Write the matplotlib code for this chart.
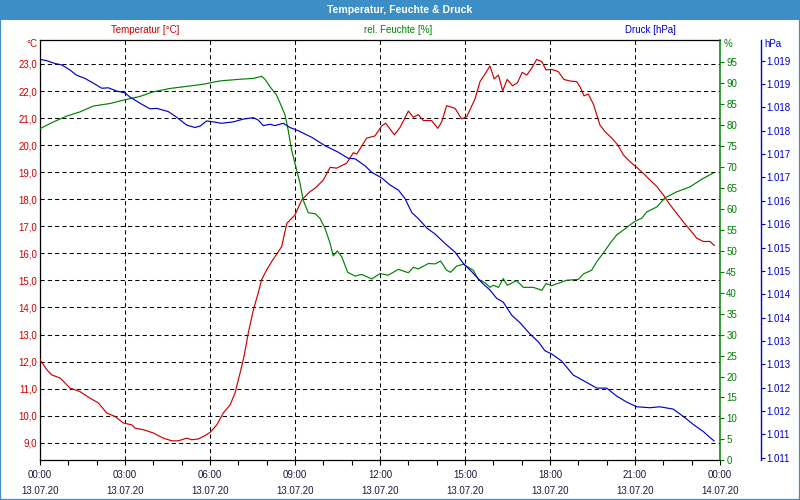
import matplotlib.pyplot as plt
import matplotlib.ticker as mticker
from matplotlib.patches import Rectangle
import numpy as np

plt.rcParams['font.family'] = ['Liberation Sans', 'DejaVu Sans']

# temperature (hours since 13.07.20 00:00, degC)
temp_h = [0.00, 0.24, 0.41, 0.71, 1.06, 1.41, 1.76, 2.06, 2.35, 2.65, 2.94, 3.24, 3.35, 3.65,
          4.00, 4.35, 4.65, 4.88, 5.18, 5.35, 5.59, 5.82, 6.00, 6.24, 6.47, 6.71, 6.88, 7.06,
          7.20, 7.35, 7.53, 7.70, 7.82, 7.98, 8.18, 8.53, 8.71, 9.00, 9.24, 9.53, 9.71, 10.00,
          10.24, 10.47, 10.82, 11.06, 11.18, 11.53, 11.82, 12.06, 12.20, 12.51, 12.71, 13.00,
          13.18, 13.35, 13.53, 13.82, 14.04, 14.18, 14.35, 14.65, 14.88, 15.06, 15.35, 15.53,
          15.71, 15.88, 16.03, 16.18, 16.33, 16.49, 16.68, 16.85, 17.02, 17.18, 17.35, 17.53,
          17.71, 17.86, 18.06, 18.29, 18.49, 18.71, 18.94, 19.06, 19.20, 19.35, 19.53, 19.65,
          19.76, 19.94, 20.18, 20.39, 20.59, 20.82, 21.06, 21.29, 21.53, 21.77, 22.00, 22.24,
          22.47, 22.70, 22.94, 23.18, 23.41, 23.65, 23.80]
temp = [12.07, 11.70, 11.51, 11.39, 11.02, 10.89, 10.65, 10.47, 10.10, 9.97, 9.73, 9.66, 9.54, 9.48,
        9.36, 9.17, 9.07, 9.07, 9.17, 9.11, 9.14, 9.26, 9.38, 9.66, 10.10, 10.40, 10.83, 11.57,
        12.19, 13.05, 13.91, 14.53, 15.02, 15.35, 15.70, 16.25, 17.11, 17.42, 17.98, 18.28, 18.41, 18.71,
        19.18, 19.15, 19.33, 19.72, 19.67, 20.26, 20.34, 20.71, 20.81, 20.38, 20.66, 21.26,
        21.03, 21.13, 20.91, 20.91, 20.62, 20.87, 21.46, 21.36, 20.97, 21.05, 21.70, 22.35,
        22.63, 22.93, 22.45, 22.59, 22.01, 22.43, 22.19, 22.31, 22.69, 22.59, 22.84, 23.17,
        23.09, 22.78, 22.80, 22.72, 22.43, 22.37, 22.35, 22.16, 21.82, 21.89, 21.52, 21.12,
        20.75, 20.50, 20.26, 20.01, 19.64, 19.39, 19.18, 18.96, 18.71, 18.47, 18.16, 17.79,
        17.48, 17.17, 16.87, 16.56, 16.44, 16.44, 16.29]

# relative humidity (%)
hum_h = [0.00, 0.47, 0.94, 1.41, 1.88, 2.47, 2.94, 3.53, 4.00, 4.59, 5.18, 5.76, 6.35, 7.06,
         7.53, 7.82, 7.94, 8.12, 8.35, 8.53, 8.65, 8.76, 8.88, 9.06, 9.18, 9.29, 9.47, 9.71,
         9.88, 10.06, 10.24, 10.35, 10.49, 10.65, 10.86, 11.12, 11.35, 11.71, 12.00, 12.29,
         12.65, 13.00, 13.18, 13.35, 13.71, 13.94, 14.14, 14.35, 14.49, 14.71, 14.94, 15.29,
         15.47, 15.71, 15.88, 16.00, 16.18, 16.35, 16.49, 16.82, 17.06, 17.41, 17.71, 17.86,
         18.06, 18.59, 19.00, 19.18, 19.47, 19.65, 19.88, 20.12, 20.35, 20.71, 21.00, 21.24,
         21.41, 21.77, 22.06, 22.47, 22.94, 23.35, 23.76]
hum = [79.2, 80.8, 82.2, 83.2, 84.6, 85.2, 86.0, 86.9, 88.0, 88.8, 89.3, 89.8, 90.6, 91.0,
       91.2, 91.7, 91.0, 89.2, 87.2, 84.4, 82.4, 78.8, 74.1, 69.3, 66.1, 62.1, 59.1, 58.9,
       57.8, 55.4, 51.8, 48.8, 50.0, 48.6, 44.9, 44.0, 44.4, 43.3, 44.6, 44.2,
       45.6, 44.8, 46.1, 45.7, 47.0, 46.9, 47.6, 45.4, 44.9, 46.4, 46.8, 45.4,
       43.2, 42.4, 41.3, 41.8, 41.3, 43.4, 41.8, 42.9, 41.3, 41.3, 40.6, 42.2,
       41.7, 43.0, 43.2, 44.5, 45.4, 47.4, 49.5, 51.8, 53.8, 55.6, 57.1, 57.8,
       59.3, 60.5, 62.7, 64.1, 65.3, 67.1, 68.6]

# pressure (hPa)
pres_h = [0.00, 0.24, 0.53, 0.77, 1.06, 1.29, 1.59, 1.88, 2.18, 2.41, 2.71, 3.00, 3.18, 3.53,
          3.88, 4.12, 4.53, 4.82, 5.18, 5.47, 5.65, 5.88, 6.12, 6.41, 6.82, 7.18, 7.53, 7.70,
          7.88, 8.12, 8.29, 8.59, 8.82, 9.12, 9.59, 10.06, 10.53, 10.88, 11.12, 11.47, 11.71,
          12.06, 12.35, 12.65, 12.88, 13.12, 13.35, 13.65, 13.94, 14.29, 14.65, 14.94, 15.24,
          15.59, 15.88, 16.12, 16.35, 16.65, 16.94, 17.29, 17.59, 17.82, 18.06, 18.41, 18.82,
          19.24, 19.65, 20.00, 20.35, 20.71, 21.06, 21.53, 21.88, 22.35, 22.71, 23.06, 23.41,
          23.65, 23.79]
pres = [1019.03, 1019.00, 1018.94, 1018.91, 1018.80, 1018.69, 1018.62, 1018.52, 1018.41, 1018.42,
        1018.35, 1018.31, 1018.22, 1018.09, 1017.97, 1017.98, 1017.91, 1017.79, 1017.62, 1017.57,
        1017.60, 1017.71, 1017.69, 1017.66, 1017.69, 1017.75, 1017.78, 1017.73, 1017.61, 1017.64,
        1017.61, 1017.66, 1017.57, 1017.50, 1017.36, 1017.18, 1017.04, 1016.91, 1016.90, 1016.75,
        1016.61, 1016.49, 1016.34, 1016.23, 1016.05, 1015.75, 1015.62, 1015.42, 1015.29, 1015.09,
        1014.90, 1014.66, 1014.48, 1014.25, 1014.09, 1013.91, 1013.83, 1013.55, 1013.39, 1013.15,
        1012.98, 1012.79, 1012.72, 1012.57, 1012.27, 1012.13, 1011.99, 1011.99, 1011.82, 1011.69,
        1011.59, 1011.57, 1011.59, 1011.54, 1011.38, 1011.21, 1011.06, 1010.93, 1010.86]

x_ticks = [0, 3, 6, 9, 12, 15, 18, 21, 24]
x_labels = ["00:00\n13.07.20", "03:00\n13.07.20", "06:00\n13.07.20", "09:00\n13.07.20",
            "12:00\n13.07.20", "15:00\n13.07.20", "18:00\n13.07.20", "21:00\n13.07.20",
            "00:00\n14.07.20"]
temp_ticks = list(range(9, 24))
hum_ticks = list(range(0, 100, 5))
pres_ticks = [1019.0, 1018.5, 1018.0, 1017.5, 1017.0, 1016.5, 1016.0, 1015.5, 1015.0,
              1014.5, 1014.0, 1013.5, 1013.0, 1012.5, 1012.0, 1011.5, 1011.0, 1010.5]
pres_labels = ["1.019", "1.019", "1.018", "1.018", "1.017", "1.017", "1.016", "1.016", "1.015",
               "1.015", "1.014", "1.014", "1.013", "1.013", "1.012", "1.012", "1.011", "1.011"]

RED = '#cc0000'
GREEN = '#008000'
BLUE = '#0000cc'
BAR = '#3d8ec6'
FS = 7.0

fig = plt.figure(figsize=(8, 5), dpi=100)
W, H = 800.0, 500.0
ax = fig.add_axes([40 / W, 1 - 460.3 / H, 680 / W, 420 / H])

# title bar and frame
fig.patches.append(Rectangle((0, 1 - 20 / H), 1, 20 / H, transform=fig.transFigure,
                             facecolor=BAR, edgecolor='none', zorder=0))
fig.patches.append(Rectangle((0, 0), 1, 1, transform=fig.transFigure, fill=False,
                             edgecolor=BAR, lw=1.6, zorder=0))
fig.text(0.5, 1 - 10 / H, "Temperatur, Feuchte & Druck", color='white', fontsize=7.6,
         fontweight='bold', ha='center', va='center')
fig.text(145 / W, 1 - 30 / H, "Temperatur [°C]", color=RED, fontsize=FS, ha='center', va='center')
fig.text(398 / W, 1 - 30 / H, "rel. Feuchte [%]", color=GREEN, fontsize=FS, ha='center', va='center')
fig.text(650 / W, 1 - 30 / H, "Druck [hPa]", color=BLUE, fontsize=FS, ha='center', va='center')
fig.text(37 / W, 1 - 44 / H, "°C", color=RED, fontsize=FS, ha='right', va='center')
fig.text(724 / W, 1 - 44 / H, "%", color=GREEN, fontsize=FS, ha='left', va='center')
fig.text(764 / W, 1 - 44 / H, "hPa", color=BLUE, fontsize=FS, ha='left', va='center')

# temperature axis
ax.plot(temp_h, temp, color=RED, lw=0.85, zorder=5)
ax.set_xlim(0, 24)
ax.set_ylim(8.35, 23.876)
ax.set_yticks(temp_ticks)
ax.yaxis.set_major_formatter(mticker.FuncFormatter(lambda v, p: f"{v:.1f}".replace('.', ',')))
ax.tick_params(axis='y', length=0, pad=2, labelsize=FS, labelcolor=RED)
ax.set_xticks(x_ticks)
ax.set_xticklabels(x_labels, linespacing=1.7)
ax.xaxis.set_minor_locator(mticker.MultipleLocator(1))
ax.tick_params(axis='x', which='both', length=3.5, width=0.8, direction='out', pad=3.5,
               labelsize=FS, labelcolor='#1a1a3a')
ax.grid(True, color='black', lw=0.75, linestyle=(0, (4, 3)))
for s in ['left', 'top', 'bottom']:
    ax.spines[s].set_linewidth(0.9)
ax.spines['right'].set_visible(False)

# humidity axis
ax2 = ax.twinx()
ax2.plot(hum_h, hum, color=GREEN, lw=0.85, zorder=5)
ax2.set_ylim(0, 100.3)
ax2.set_yticks(hum_ticks)
ax2.tick_params(axis='y', length=3, width=0.8, pad=1.5, labelsize=FS, labelcolor=GREEN, color=GREEN)
for s in ['left', 'top', 'bottom']:
    ax2.spines[s].set_visible(False)
ax2.spines['right'].set_color(GREEN)
ax2.spines['right'].set_linewidth(1.1)

# pressure axis
ax3 = ax.twinx()
ax3.plot(pres_h, pres, color=BLUE, lw=0.85, zorder=5)
ax3.set_ylim(1010.444, 1019.437)
ax3.set_yticks(pres_ticks)
ax3.set_yticklabels(pres_labels)
ax3.spines['right'].set_position(('axes', 1 + 41 / 680))
ax3.tick_params(axis='y', length=3, width=0.8, pad=1, labelsize=FS, labelcolor=BLUE, color=BLUE)
for s in ['left', 'top', 'bottom']:
    ax3.spines[s].set_visible(False)
ax3.spines['right'].set_color(BLUE)
ax3.spines['right'].set_linewidth(1.0)

fig.savefig("out.png", dpi=100)
